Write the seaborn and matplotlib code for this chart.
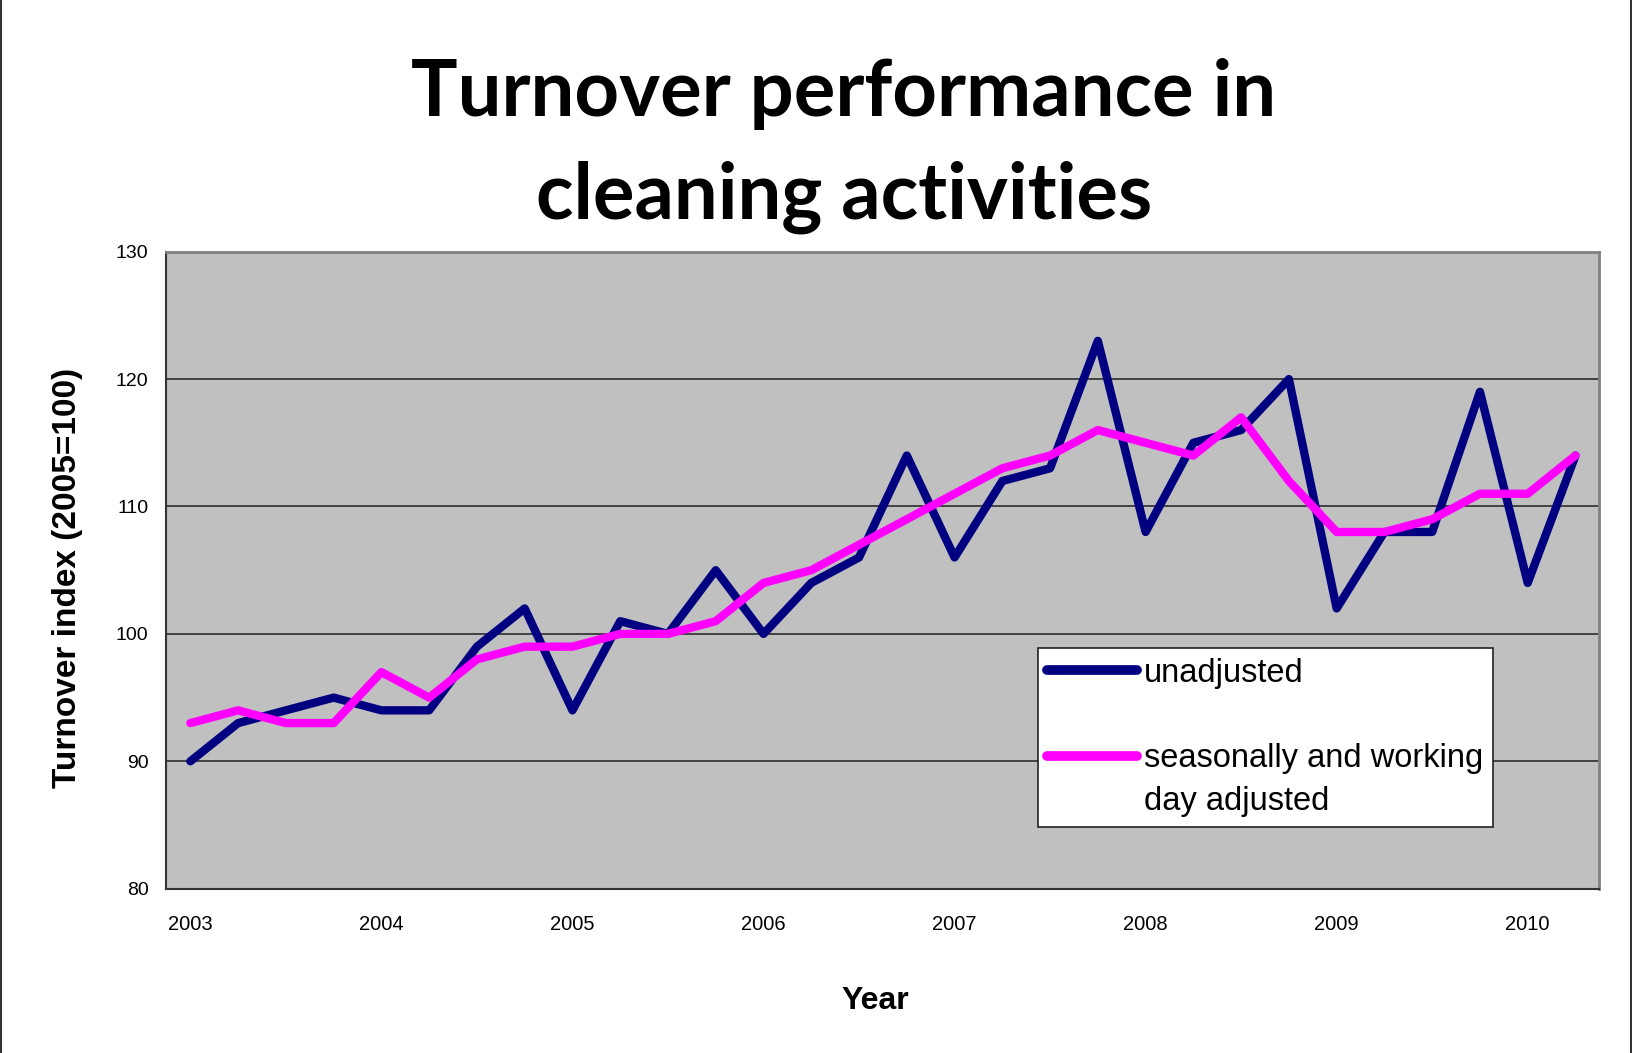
import matplotlib
matplotlib.use("Agg")
import matplotlib.pyplot as plt
from matplotlib.lines import Line2D
import seaborn as sns
import pandas as pd

# Quarterly index values, 2003Q1 .. 2010Q2
years = [2003, 2004, 2005, 2006, 2007, 2008, 2009, 2010]
quarters = [f"{y}Q{q}" for y in years for q in range(1, 5)][:30]

unadjusted = [90, 93, 94, 95, 94, 94, 99, 102,
              94, 101, 100, 105, 100, 104, 106, 114,
              106, 112, 113, 123, 108, 115, 116, 120,
              102, 108, 108, 119, 104, 114]
adjusted = [93, 94, 93, 93, 97, 95, 98, 99,
            99, 100, 100, 101, 104, 105, 107, 109,
            111, 113, 114, 116, 115, 114, 117, 112,
            108, 108, 109, 111, 111, 114]

series_names = ["unadjusted", "seasonally and working day adjusted"]
colors = {"unadjusted": "#000080", "seasonally and working day adjusted": "#FF00FF"}

df = pd.DataFrame({
    "quarter": quarters * 2,
    "pos": list(range(len(quarters))) * 2,
    "value": unadjusted + adjusted,
    "series": [series_names[0]] * len(quarters) + [series_names[1]] * len(quarters),
})

sns.set_style("white")
plt.rcParams["font.family"] = ["Liberation Sans", "DejaVu Sans"]
plt.rcParams["text.color"] = "black"
plt.rcParams["axes.labelcolor"] = "black"
plt.rcParams["xtick.color"] = "black"
plt.rcParams["ytick.color"] = "black"

fig = plt.figure(figsize=(16.32, 10.53), dpi=100)
ax = fig.add_axes([0.102, 0.156, 0.878, 0.605])
ax.set_facecolor("#C0C0C0")

sns.lineplot(data=df, x="pos", y="value", hue="series", hue_order=series_names,
             palette=colors, linewidth=6, legend=False, ax=ax,
             solid_joinstyle="round", solid_capstyle="round")

# axes
ax.set_xlim(-0.5, len(quarters) - 0.5)
ax.set_ylim(80, 130)
ax.set_yticks(range(80, 131, 10))
ax.yaxis.grid(True, color="#202020", linewidth=1.1)
ax.xaxis.grid(False)
ax.set_axisbelow(True)

ax.set_xticks(range(0, len(quarters), 4))
ax.set_xticklabels([str(y) for y in years])
ax.set_xticks([i - 0.5 for i in range(len(quarters) + 1)], minor=True)
ax.tick_params(axis="x", which="major", length=0, pad=19, labelsize=14.5)
ax.tick_params(axis="x", which="minor", length=6, width=1.2, color="#333333", direction="out")
ax.tick_params(axis="y", length=6, width=1.2, color="#333333", direction="out", pad=7, labelsize=14)

for side in ["left", "bottom"]:
    ax.spines[side].set_color("#333333")
    ax.spines[side].set_linewidth(1.5)
for side in ["top", "right"]:
    ax.spines[side].set_color("#808080")
    ax.spines[side].set_linewidth(2)

ax.set_xlabel("Year", fontsize=23, fontweight="bold")
ax.set_ylabel("Turnover index (2005=100)", fontsize=24, fontweight="bold")
ax.xaxis.set_label_coords(0.495, -0.152)
ax.yaxis.set_label_coords(-0.058, 0.488)

# legend laid out like the spreadsheet original
handles = [
    Line2D([], [], color=colors[series_names[0]], linewidth=7, solid_capstyle="round"),
    Line2D([], [], color="none"),
    Line2D([], [], color=colors[series_names[1]], linewidth=7, solid_capstyle="round"),
    Line2D([], [], color="none"),
]
labels = ["unadjusted", " ", "seasonally and working", "day adjusted"]
leg = ax.legend(handles, labels, loc="upper left", bbox_to_anchor=(0.608, 0.378),
                fontsize=23.5, frameon=True, fancybox=False, framealpha=1,
                edgecolor="#222222", handlelength=2.75, handletextpad=0.2,
                labelspacing=0.36, borderpad=0.3, borderaxespad=0)
leg.get_frame().set_linewidth(1.2)

fig.text(0.517, 0.861, "Turnover performance in\ncleaning activities",
         ha="center", va="center", fontsize=56, fontweight="bold",
         family=["Lato", "Liberation Sans", "DejaVu Sans"],
         linespacing=1.53)

# thin frame on the page edges
fig.add_artist(Line2D([0.0008, 0.0008], [0, 1], transform=fig.transFigure, color="#333333", linewidth=1.5))
fig.add_artist(Line2D([0.9992, 0.9992], [0, 1], transform=fig.transFigure, color="#333333", linewidth=1.5))

fig.savefig("out.png", dpi=100)
